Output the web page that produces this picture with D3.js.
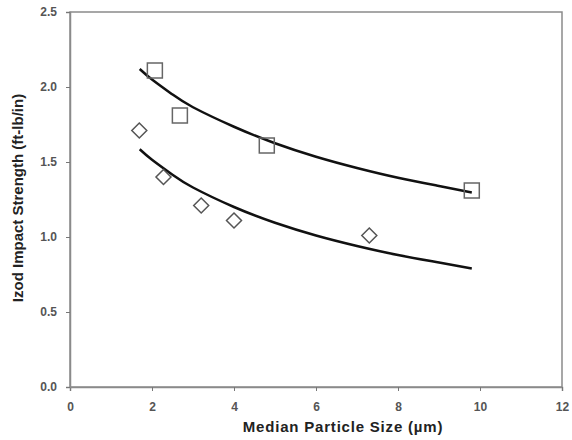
<!DOCTYPE html>
<html>
<head>
<meta charset="utf-8">
<script src="https://cdn.jsdelivr.net/npm/d3@7"></script>
<style>
  body { margin: 0; background: #fff; }
  text { font-family: "Liberation Sans", Arial, sans-serif; }
</style>
</head>
<body>
<div id="container"></div>
<script>
var squareX = [2.07, 2.68, 4.80, 9.80];
var squareY = [2.11, 1.81, 1.61, 1.31];
var diamondX = [1.69, 2.28, 3.20, 4.00, 7.30];
var diamondY = [1.71, 1.40, 1.21, 1.11, 1.01];

// trend curves, sampled off the figure
var curveX = [1.7, 2.0, 2.5, 3.0, 4.0, 5.0, 6.0, 7.0, 8.0, 9.0, 9.8];
var upperY = [2.12, 2.05, 1.95, 1.865, 1.735, 1.625, 1.535, 1.46, 1.395, 1.34, 1.297];
var lowerY = [1.585, 1.515, 1.415, 1.33, 1.20, 1.095, 1.01, 0.94, 0.88, 0.83, 0.79];

var xTicks = [0, 2, 4, 6, 8, 10, 12];
var yTicks = [0, 0.5, 1.0, 1.5, 2.0, 2.5];

var margin = {top: 12, right: 10, bottom: 53, left: 70},
    width = 572 - margin.left - margin.right,
    height = 440 - margin.top - margin.bottom;

var svg = d3.select("#container")
  .append("svg")
    .attr("width", 572)
    .attr("height", 440)
  .append("g")
    .attr("transform", "translate(" + margin.left + "," + margin.top + ")");

var x = d3.scaleLinear().domain([0, 12]).range([0, width]);
var y = d3.scaleLinear().domain([0, 2.5]).range([height, 0]);

// frame
svg.append("rect")
  .attr("x", 0).attr("y", 0)
  .attr("width", width).attr("height", height)
  .attr("fill", "none")
  .attr("stroke", "#8a8a8a")
  .attr("stroke-width", 1.5);

var xAxis = svg.append("g")
  .attr("transform", "translate(0," + height + ")")
  .call(d3.axisBottom(x).tickValues(xTicks).tickSize(4).tickPadding(11)
    .tickFormat(d3.format("d")));

var yAxis = svg.append("g")
  .call(d3.axisLeft(y).tickValues(yTicks).tickSize(4).tickPadding(9)
    .tickFormat(d3.format(".1f")));

[xAxis, yAxis].forEach(function(a) {
  a.select(".domain").attr("stroke", "#8a8a8a").attr("stroke-width", 1.5);
  a.selectAll(".tick line").attr("stroke", "#777");
  a.selectAll(".tick text")
    .attr("fill", "#555")
    .style("font-size", "12px")
    .style("font-weight", "bold");
});

// axis titles
svg.append("text")
  .attr("x", width / 2 + 27)
  .attr("y", height + 45)
  .attr("text-anchor", "middle")
  .style("font-size", "15px")
  .style("font-weight", "bold")
  .style("letter-spacing", "0.8px")
  .attr("fill", "#222")
  .text("Median Particle Size (\u00b5m)");

svg.append("text")
  .attr("transform", "translate(-47," + (198 - margin.top) + ") rotate(-90)")
  .attr("text-anchor", "middle")
  .style("font-size", "15px")
  .style("font-weight", "bold")
  .attr("fill", "#222")
  .text("Izod Impact Strength (ft-lb/in)");

// curves
var line = d3.line()
  .x(function(d) { return x(d[0]); })
  .y(function(d) { return y(d[1]); })
  .curve(d3.curveNatural);

[upperY, lowerY].forEach(function(ys) {
  svg.append("path")
    .datum(curveX.map(function(v, i) { return [v, ys[i]]; }))
    .attr("d", line)
    .attr("fill", "none")
    .attr("stroke", "#111")
    .attr("stroke-width", 2.5);
});

// squares
var sq = 15;
svg.selectAll(".sq")
  .data(squareX.map(function(v, i) { return [v, squareY[i]]; }))
  .enter()
  .append("rect")
  .attr("class", "sq")
  .attr("x", function(d) { return x(d[0]) - sq / 2; })
  .attr("y", function(d) { return y(d[1]) - sq / 2; })
  .attr("width", sq)
  .attr("height", sq)
  .attr("fill", "none")
  .attr("stroke", "#666")
  .attr("stroke-width", 1.5);

// diamonds
var dm = 7.5;
svg.selectAll(".dm")
  .data(diamondX.map(function(v, i) { return [v, diamondY[i]]; }))
  .enter()
  .append("path")
  .attr("class", "dm")
  .attr("transform", function(d) { return "translate(" + x(d[0]) + "," + y(d[1]) + ")"; })
  .attr("d", "M0," + (-dm) + "L" + dm + ",0L0," + dm + "L" + (-dm) + ",0Z")
  .attr("fill", "none")
  .attr("stroke", "#555")
  .attr("stroke-width", 1.5);
</script>
</body>
</html>
